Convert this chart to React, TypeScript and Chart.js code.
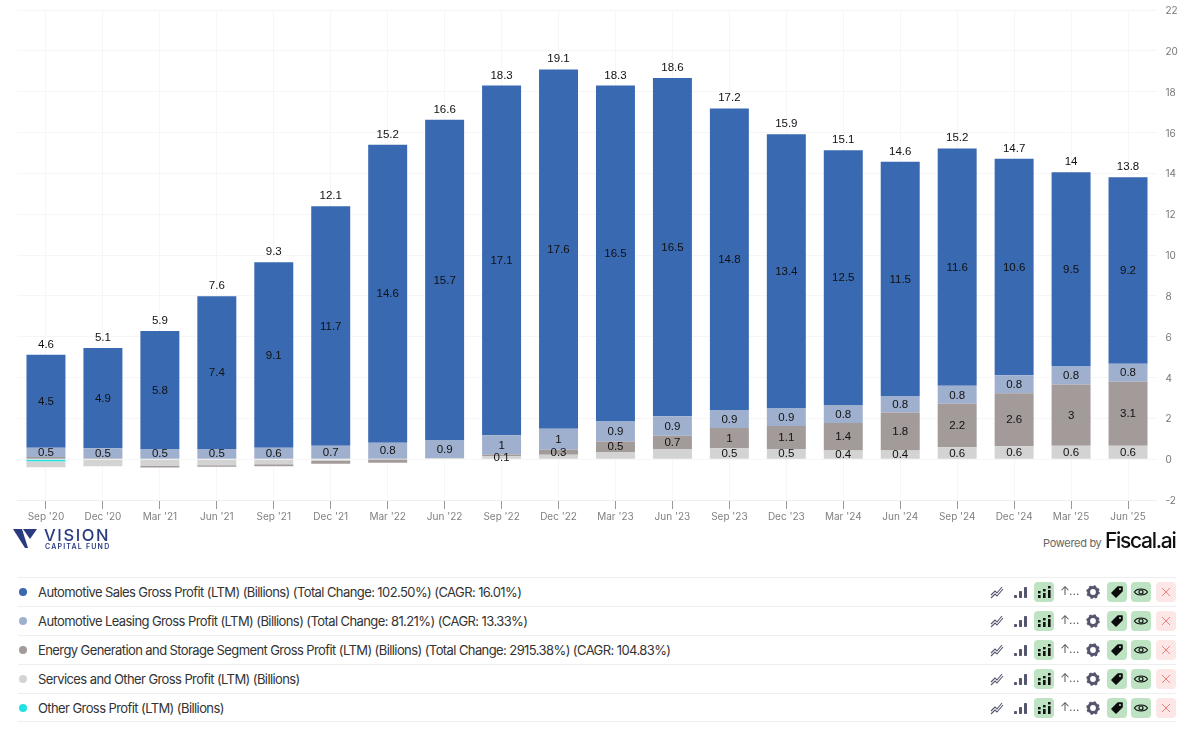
import React, { useEffect, useRef } from "react";
import { Chart, registerables } from "chart.js";

Chart.register(...registerables);

const categories = ["Sep '20","Dec '20","Mar '21","Jun '21","Sep '21","Dec '21","Mar '22","Jun '22","Sep '22","Dec '22","Mar '23","Jun '23","Sep '23","Dec '23","Mar '24","Jun '24","Sep '24","Dec '24","Mar '25","Jun '25"];
const salesValues = [4.55,4.9,5.78,7.48,9.09,11.73,14.6,15.7,17.13,17.6,16.45,16.57,14.77,13.43,12.48,11.5,11.63,10.6,9.51,9.14];
const leasingValues = [0.45,0.5,0.5,0.5,0.56,0.66,0.8,0.87,0.94,1.03,0.98,0.95,0.88,0.86,0.88,0.78,0.88,0.88,0.88,0.88];
const energyValues = [0.11,0.04,-0.08,-0.07,-0.1,-0.15,-0.15,0,0.09,0.24,0.52,0.65,1,1.12,1.34,1.86,2.13,2.6,3,3.13];
const servicesValues = [-0.3,-0.35,-0.33,-0.3,-0.25,-0.07,-0.02,0.05,0.14,0.22,0.35,0.5,0.53,0.5,0.43,0.43,0.58,0.63,0.66,0.66];
const otherValues = [-0.1,0,0,0,0,0,0,0,0,0,0,0,0,0,0,0,0,0,0,0];
const totals = [4.6,5.1,5.9,7.6,9.3,12.1,15.2,16.6,18.3,19.1,18.3,18.6,17.2,15.9,15.1,14.6,15.2,14.7,14,13.8];

const salesLabels = ["4.5","4.9","5.8","7.4","9.1","11.7","14.6","15.7","17.1","17.6","16.5","16.5","14.8","13.4","12.5","11.5","11.6","10.6","9.5","9.2"];
const leasingLabels = ["0.5","0.5","0.5","0.5","0.6","0.7","0.8","0.9","1","1","0.9","0.9","0.9","0.9","0.8","0.8","0.8","0.8","0.8","0.8"];
const energyLabels = [null,null,null,null,null,null,null,null,null,"0.3","0.5","0.7","1","1.1","1.4","1.8","2.2","2.6","3","3.1"];
const servicesLabels = [null,null,null,null,null,null,null,null,"0.1",null,null,null,"0.5","0.5","0.4","0.4","0.6","0.6","0.6","0.6"];
const yTicks = [-2,0,2,4,6,8,10,12,14,16,18,20,22];

const seriesNames = ["Other Gross Profit (LTM) (Billions)","Services and Other Gross Profit (LTM) (Billions)","Energy Generation and Storage Segment Gross Profit (LTM) (Billions)","Automotive Leasing Gross Profit (LTM) (Billions)","Automotive Sales Gross Profit (LTM) (Billions)"];
const seriesColors = ["#1fe3e0","#d3d3d3","#a39a9a","#9fb0cf","#3869b1"];
const legendRows = [
  { text: "Automotive Sales Gross Profit (LTM) (Billions) (Total Change: 102.50%) (CAGR: 16.01%)", color: "#3869b1" },
  { text: "Automotive Leasing Gross Profit (LTM) (Billions) (Total Change: 81.21%) (CAGR: 13.33%)", color: "#9fb0cf" },
  { text: "Energy Generation and Storage Segment Gross Profit (LTM) (Billions) (Total Change: 2915.38%) (CAGR: 104.83%)", color: "#a39a9a" },
  { text: "Services and Other Gross Profit (LTM) (Billions)", color: "#d3d3d3" },
  { text: "Other Gross Profit (LTM) (Billions)", color: "#1fe3e0" },
];

const labelFont = "11.5px 'Liberation Sans', Arial, sans-serif";
const uiFont = "Inter, 'Noto Sans', sans-serif";

const valueLabels = {
  id: "valueLabels",
  afterDatasetsDraw(chart: any) {
    const { ctx } = chart;
    ctx.save();
    ctx.font = labelFont;
    ctx.fillStyle = "#111";
    ctx.textAlign = "center";
    ctx.textBaseline = "middle";
    chart.data.datasets.forEach((ds: any, i: number) => {
      if (!ds.segmentLabels) return;
      const meta = chart.getDatasetMeta(i);
      meta.data.forEach((bar: any, j: number) => {
        const t = ds.segmentLabels[j];
        if (t) ctx.fillText(t, bar.x, (bar.y + bar.base) / 2 + 0.5);
      });
    });
    const top = chart.getDatasetMeta(chart.data.datasets.length - 1);
    ctx.textBaseline = "alphabetic";
    top.data.forEach((bar: any, j: number) => {
      ctx.fillText(String(totals[j]), bar.x, bar.y - 7);
    });
    ctx.restore();
  },
};

function Icon({ kind, bg }: { kind: string; bg?: string }) {
  const dark = "#55566e";
  const shapes: Record<string, React.ReactNode> = {
    line: <path d="M3 12 L7 8 L9 10 L14 4 M3 15 L7 11 L9 13 L15 6" fill="none" stroke={dark} strokeWidth="1.1" />,
    bars: (
      <g fill={dark}>
        <rect x="3" y="12" width="3" height="3" rx="0.7" />
        <rect x="8" y="8" width="3" height="7" rx="0.7" />
        <rect x="13" y="4" width="3" height="11" rx="0.7" />
      </g>
    ),
    stack: (
      <g fill="#111">
        <rect x="3" y="8" width="2.6" height="2.4" />
        <rect x="3" y="12" width="2.6" height="3" />
        <rect x="8" y="6" width="2.6" height="2.4" />
        <rect x="8" y="10" width="2.6" height="5" />
        <rect x="13" y="3" width="2.6" height="2.4" />
        <rect x="13" y="7" width="2.6" height="8" />
      </g>
    ),
    gear: (
      <g>
        <circle cx="9" cy="9" r="4.4" fill="none" stroke={dark} strokeWidth="3" />
        <circle cx="9" cy="9" r="6" fill="none" stroke={dark} strokeWidth="1.6" strokeDasharray="2.4 2.3" />
      </g>
    ),
    tag: (
      <g>
        <path d="M4 10 L10 4 L14 4 L14 8 L8 14 Z" fill="#0c0c0c" stroke="#0c0c0c" strokeWidth="1.6" strokeLinejoin="round" />
        <circle cx="12" cy="6" r="1" fill="#bde3c3" />
      </g>
    ),
    eye: (
      <g fill="none" stroke="#111" strokeWidth="1.2">
        <path d="M2.5 9 C5 5 13 5 15.5 9 C13 13 5 13 2.5 9 Z" />
        <circle cx="9" cy="9" r="2" />
      </g>
    ),
    close: <path d="M5 5 L13 13 M13 5 L5 13" stroke="#ef8080" strokeWidth="1" />,
  };
  return (
    <div style={{ width: 20, height: 20, borderRadius: 4, background: bg || "transparent", display: "flex", alignItems: "center", justifyContent: "center" }}>
      <svg width="18" height="18" viewBox="0 0 18 18">{shapes[kind]}</svg>
    </div>
  );
}

export default function App() {
  const ref = useRef<HTMLCanvasElement>(null);
  useEffect(() => {
    document.body.style.margin = "0";
    document.body.style.background = "#fff";
    const seriesValues = [otherValues, servicesValues, energyValues, leasingValues, salesValues];
    const seriesLabels = [null, servicesLabels, energyLabels, leasingLabels, salesLabels];
    const chart = new Chart(ref.current as HTMLCanvasElement, {
      type: "bar",
      data: {
        labels: categories,
        datasets: seriesValues.map((data, i) => ({
          label: seriesNames[i],
          data,
          backgroundColor: seriesColors[i],
          borderWidth: 0,
          categoryPercentage: 0.85,
          barPercentage: 0.805,
          segmentLabels: seriesLabels[i],
        })) as any,
      },
      options: {
        responsive: false,
        animation: false,
        layout: { padding: { top: 4, left: 17.5, right: 0, bottom: 0 } },
        plugins: { legend: { display: false }, tooltip: { enabled: false } },
        scales: {
          x: {
            stacked: true,
            grid: { color: "#f6f6f6", lineWidth: 1, tickColor: "#9a9a9a", tickLength: 9, offset: false },
            border: { color: "#eeeeee" },
            ticks: { color: "#808080", font: { family: uiFont, size: 10 }, maxRotation: 0, autoSkip: false, padding: 2 },
            afterFit(scale: any) { scale.height = 30; },
          },
          y: {
            stacked: true,
            position: "right",
            min: -2,
            max: 22,
            afterBuildTicks(scale: any) { scale.ticks = yTicks.map((value) => ({ value })); },
            grid: { color: "#f6f6f6", lineWidth: 1, drawTicks: false },
            border: { display: false },
            ticks: { color: "#777", font: { family: uiFont, size: 10 }, padding: 9, labelOffset: 1 },
            afterFit(scale: any) { scale.width = 43.5; },
          },
        },
      },
      plugins: [valueLabels],
    } as any);
    return () => chart.destroy();
  }, []);

  return (
    <div style={{ position: "relative", width: 1200, height: 731, overflow: "hidden", background: "#fff", fontFamily: uiFont }}>
      <canvas ref={ref} width={1200} height={535} style={{ position: "absolute", left: 0, top: -5, width: 1200, height: 535 }} />
      <svg width="26" height="22" viewBox="0 0 26 22" style={{ position: "absolute", left: 13, top: 528 }}>
        <path d="M0 1 L9 1 L15 20 L12 20 Z" fill="#2a3a80" />
        <path d="M10 1 L24 1 L17 11 Z" fill="#2a3a80" />
      </svg>
      <div style={{ position: "absolute", left: 44, top: 524, fontSize: 16.5, letterSpacing: 1.6, color: "#2a3a80", fontWeight: 500, lineHeight: "22px" }}>VISION</div>
      <div style={{ position: "absolute", left: 45, top: 542, fontSize: 7, letterSpacing: 1.2, color: "#2a3a80", fontWeight: 600, lineHeight: "10px" }}>CAPITAL FUND</div>
      <div style={{ position: "absolute", left: 1043, top: 535, fontSize: 11, color: "#666", lineHeight: "16px", letterSpacing: -0.3 }}>Powered by</div>
      <div style={{ position: "absolute", left: 1105, top: 528, fontSize: 21, color: "#111", fontWeight: 500, lineHeight: "26px", letterSpacing: -1.3 }}>Fiscal.ai</div>
      {legendRows.map((row, i) => (
        <div key={i} style={{ position: "absolute", left: 18, top: 577 + i * 29, width: 1158, height: 29, borderTop: "1px solid #eeeeee", borderBottom: i === legendRows.length - 1 ? "1px solid #eeeeee" : "none", boxSizing: "border-box" }}>
          <div style={{ position: "absolute", left: 1, top: 10, width: 8, height: 8, borderRadius: 4, background: row.color }} />
          <div style={{ position: "absolute", left: 20, top: 5, fontSize: 13, letterSpacing: -0.59, color: "#333", whiteSpace: "nowrap", lineHeight: "18px" }}>{row.text}</div>
          <div style={{ position: "absolute", left: 969, top: 4 }}><Icon kind="line" /></div>
          <div style={{ position: "absolute", left: 992, top: 4 }}><Icon kind="bars" /></div>
          <div style={{ position: "absolute", left: 1016, top: 4 }}><Icon kind="stack" bg="#bde3c3" /></div>
          <div style={{ position: "absolute", left: 1042, top: 5, fontSize: 12, color: "#555", letterSpacing: -1 }}>↑…</div>
          <div style={{ position: "absolute", left: 1065, top: 4 }}><Icon kind="gear" /></div>
          <div style={{ position: "absolute", left: 1089, top: 4 }}><Icon kind="tag" bg="#bde3c3" /></div>
          <div style={{ position: "absolute", left: 1113, top: 4 }}><Icon kind="eye" bg="#bde3c3" /></div>
          <div style={{ position: "absolute", left: 1138, top: 4 }}><Icon kind="close" bg="#fde6e6" /></div>
        </div>
      ))}
    </div>
  );
}
